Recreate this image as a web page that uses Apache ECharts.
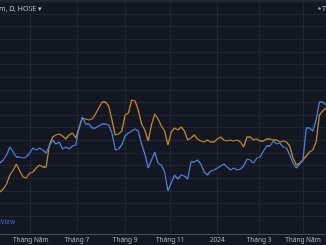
<!DOCTYPE html>
<html><head><meta charset="utf-8">
<script src="https://cdn.jsdelivr.net/npm/echarts@6/dist/echarts.min.js"></script>
<style>html,body{margin:0;padding:0;background:#131722;overflow:hidden}#c{width:326px;height:245px}</style>
</head><body><div id="c"></div>
<script>
// Trading calendar (HOSE)
const startDate = '2023-03-22';
const endDate = '2024-05-31';
const holidays = ['2023-05-01','2023-05-02','2023-05-03','2023-09-01','2023-09-04','2024-01-01',
  '2024-02-08','2024-02-09','2024-02-12','2024-02-13','2024-02-14','2024-04-18','2024-04-29','2024-04-30','2024-05-01'];
// one value every 3 trading days (percent change)
const sampleStep = 3;
const orangeValues = [
  -16.8,-15.6,-13.6,-10,-8,-5.6,-8.4,-10.8,-11.2,-9.2,
  -8.8,-7.2,-6,-6.8,-6.8,2,5.2,6,6.4,5.6,
  4.4,6,6.8,4.8,8.8,12.8,12.4,12,12.4,14.4,
  16.8,19.2,19.2,17.6,12,6,6.4,7.6,14,14.8,
  20,19.6,16,10.4,8,3.6,10,14.4,12.4,9.6,
  7.6,2,7.2,8.8,8,9.2,7.6,4,4.8,6,
  4.4,3.6,3.2,4,3.2,3.2,4.4,5.2,4,3.6,
  4,3.6,4,3.2,1.2,5.2,5.2,4,4.4,3.6,
  3.6,4.4,4.4,4,4,3.2,3.6,3.2,1.6,-3.2,
  -6,-5.2,-4,-2.4,-0.8,0,3.2,14,15.6,16.8
];
const blueValues = [
  -5.2,-4,-2,1.2,-0.8,-2.8,-2.8,-3.2,-2.8,-1.2,
  0.8,0,0.8,0,-1.2,1.6,4,2.4,3.2,0.4,
  1.2,0.4,1.6,2,8.8,13.2,10.4,10.4,8.8,8.8,
  9.6,10.4,10.4,10,6.8,0,0.4,2,5.6,6.8,
  7.6,8.4,7.6,2.4,-1.6,-7.2,-4,-0.8,-5.2,-6,
  -8.8,-16.4,-13.2,-10,-11.6,-10,-10.4,-11.6,-4.8,-4.8,
  -4,-5.6,-8.8,-10,-8.4,-8,-7.2,-6.4,-5.6,-6.8,
  -8,-7.2,-8,-7.6,-6.4,-3.6,-4,-5.2,-3.2,-2.8,
  -0.4,1.6,1.6,3.6,2.4,2.8,1.2,0.8,-2,-5.2,
  -7.2,-5.6,-4,8.8,8.8,7.6,12,19.2,19.2,18
];
const tickMonths = ['2023-05','2023-07','2023-09','2023-11','2024-01','2024-03','2024-05'];
const tickLabels = ['Tháng Năm','Tháng 7','Tháng 9','Tháng 11','2024','Tháng 3','Tháng Năm'];

function tradingDays() {
  const out = [];
  const hol = new Set(holidays);
  const d = new Date(startDate + 'T00:00:00Z');
  const end = new Date(endDate + 'T00:00:00Z');
  while (d <= end) {
    const s = d.toISOString().slice(0, 10);
    const wd = d.getUTCDay();
    if (wd !== 0 && wd !== 6 && !hol.has(s)) out.push(s);
    d.setUTCDate(d.getUTCDate() + 1);
  }
  return out;
}
const days = tradingDays();
const firstIdx = {};
days.forEach((s, i) => { const m = s.slice(0, 7); if (!(m in firstIdx)) firstIdx[m] = i; });
const tickAt = new Map(tickMonths.map((m, k) => [firstIdx[m], tickLabels[k]]));
const isTick = (i) => tickAt.has(i);
const toData = vals => vals.map((v, j) => [j * sampleStep, v]);

const chart = echarts.init(document.getElementById('c'), null, {renderer: 'canvas'});
chart.setOption({
  animation: false,
  backgroundColor: '#131722',
  grid: [
    {left: 0, right: 0, top: 0, bottom: 11},
    {left: 0, right: 0, top: 14, height: 202}
  ],
  xAxis: [
    {
      type: 'category', gridIndex: 0, data: days, boundaryGap: false,
      axisLine: {show: true, onZero: false, lineStyle: {color: '#4a4e59', width: 1}},
      axisTick: {show: false},
      axisLabel: {
        interval: (i) => isTick(i), formatter: (v, i) => tickAt.get(i) || '',
        color: '#b2b5be', fontSize: 6.5, fontFamily: 'Noto Sans', margin: 3
      },
      splitLine: {show: true, interval: (i) => isTick(i), lineStyle: {color: '#222633', width: 1}}
    },
    {type: 'value', gridIndex: 1, min: 0, max: 1, show: false}
  ],
  yAxis: [
    {type: 'value', gridIndex: 0, min: -33.6, max: 60, show: false, splitLine: {show: false}},
    {
      type: 'value', gridIndex: 1, min: 0, max: 16, interval: 1,
      axisLine: {show: false}, axisTick: {show: false}, axisLabel: {show: false},
      splitLine: {show: true, lineStyle: {color: '#222633', width: 1}}
    }
  ],
  series: [
    {type: 'line', name: 'orange', data: toData(orangeValues), showSymbol: false, symbol: 'none',
      lineStyle: {color: '#c08629', width: 1.3}, z: 3},
    {type: 'line', name: 'blue', data: toData(blueValues), showSymbol: false, symbol: 'none',
      lineStyle: {color: '#4d7fd6', width: 1.3}, z: 4}
  ],
  graphic: [
    {type: 'rect', shape: {x: 0, y: 0, width: 326, height: 2.5}, style: {fill: '#222631'}, silent: true},
    {type: 'text', x: -1, y: 9, style: {text: 'm, D, HOSE ▾', fill: '#c3c6ce', font: '7px "Noto Sans"', textVerticalAlign: 'middle'}},
    {type: 'circle', shape: {cx: 319.5, cy: 8.5, r: 1.3}, style: {fill: '#9a9da6'}},
    {type: 'text', x: 322, y: 8.5, style: {text: 'T', fill: '#c3c6ce', font: '7px "Noto Sans"', textVerticalAlign: 'middle'}},
    {type: 'text', x: 15, y: 222.5, style: {text: 'TradingView', fill: '#3e6fd0', font: '6.5px "Noto Sans"', textAlign: 'right', textVerticalAlign: 'middle'}}
  ]
});
</script>
</body></html>
